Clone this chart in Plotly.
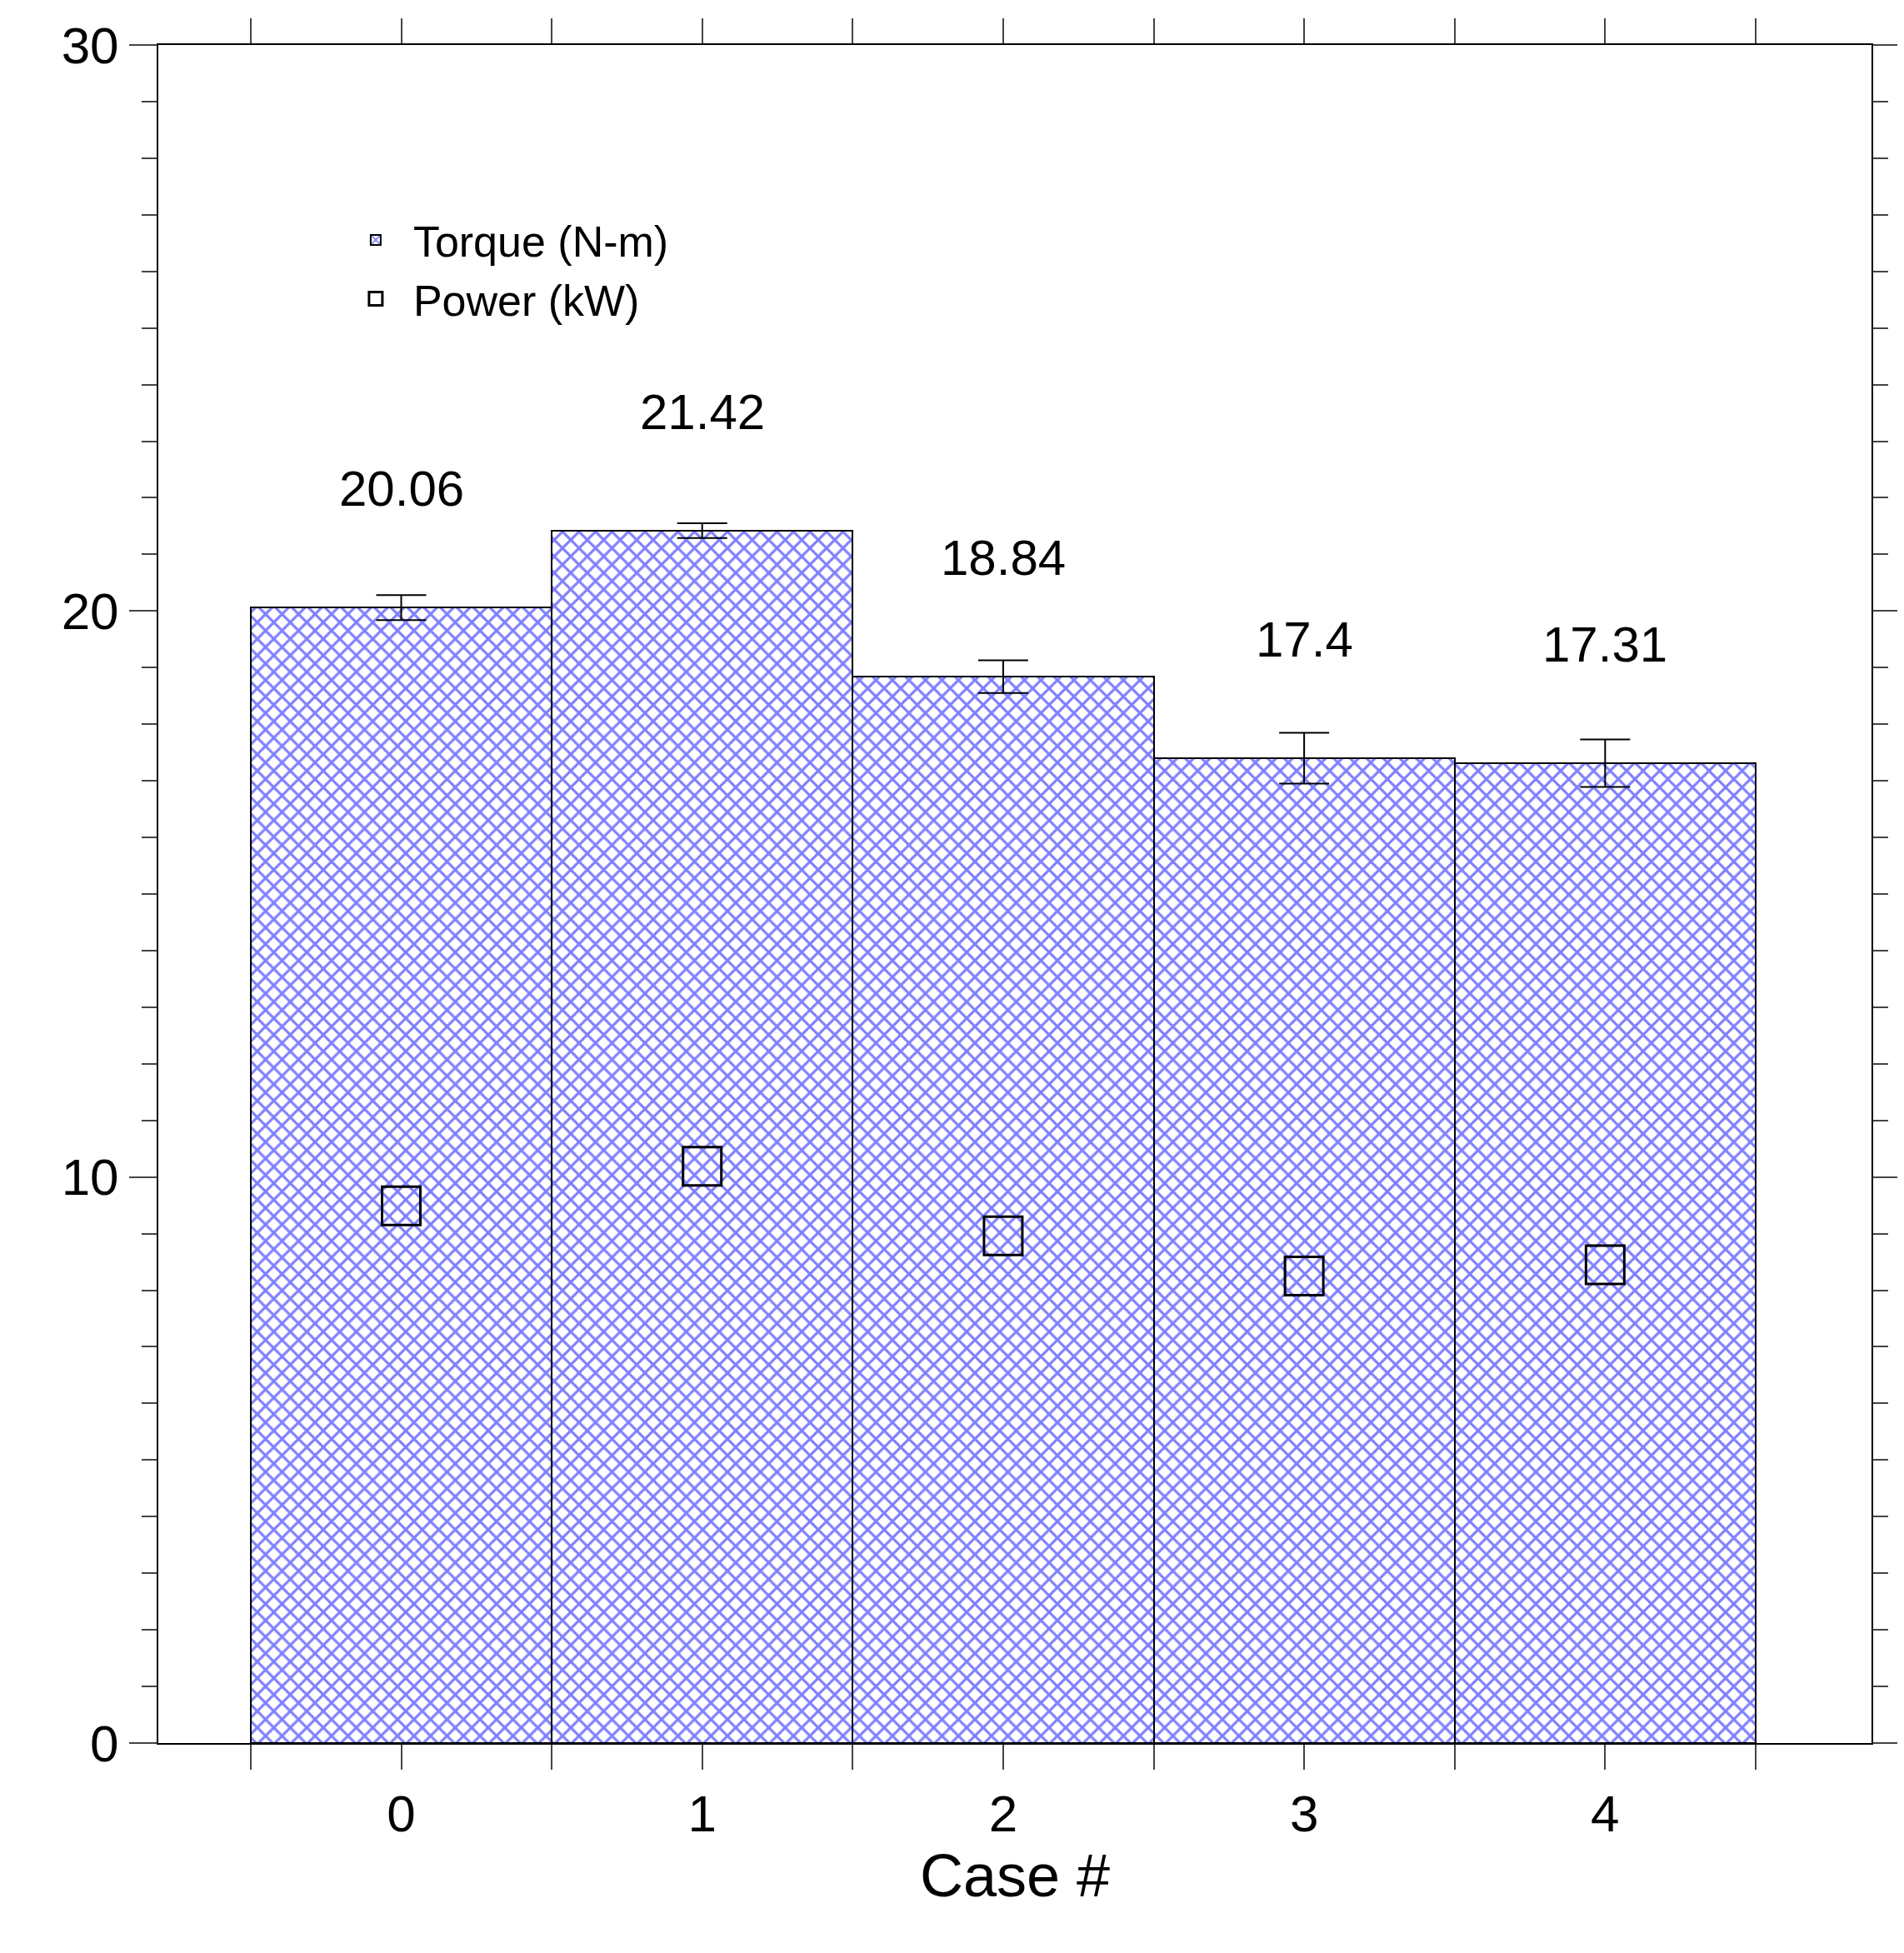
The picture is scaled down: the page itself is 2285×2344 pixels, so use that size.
import plotly.graph_objects as go

cases = [0, 1, 2, 3, 4]
torque = [20.06, 21.42, 18.84, 17.40, 17.31]
torque_err = [0.22, 0.13, 0.29, 0.45, 0.42]
power = [9.49, 10.19, 8.96, 8.25, 8.45]
labels = ["20.06", "21.42", "18.84", "17.4", "17.31"]
label_offset = [2.1, 2.1, 2.1, 2.1, 2.1]

F = "Liberation Sans, Arial, sans-serif"
fig = go.Figure()
fig.add_trace(go.Bar(
    x=cases, y=torque, width=1.0, name="Torque (N-m)",
    marker=dict(color="white", line=dict(color="black", width=2),
                pattern=dict(shape="x", fgcolor="#0000ff", bgcolor="white", size=14, solidity=0.4)),
    error_y=dict(type="data", array=torque_err, color="black", thickness=2, width=30),
))
fig.add_trace(go.Scatter(
    x=cases, y=power, mode="markers", name="Power (kW)",
    marker=dict(symbol="square-open", size=46, color="black", line=dict(width=3)),
))
for c, t, l, o in zip(cases, torque, labels, label_offset):
    fig.add_annotation(x=c, y=t + o, text=l, showarrow=False,
                       font=dict(family=F, size=60, color="black"))

fig.update_layout(
    width=2285, height=2344, plot_bgcolor="white", paper_bgcolor="white",
    margin=dict(l=182, r=37, t=45, b=260), bargap=0,
    font=dict(family=F, color="black"),
    legend=dict(x=0.105, y=0.905, xanchor="left", yanchor="top",
                font=dict(size=52, family=F), bgcolor="rgba(0,0,0,0)",
                itemwidth=80),
    showlegend=True,
)
fig.update_xaxes(range=[-0.807, 4.885], tickvals=cases, ticks="outside", ticklen=30, tickwidth=2,
                 showline=True, linecolor="black", linewidth=2, mirror="ticks", showgrid=False,
                 tickfont=dict(size=62), title=dict(text="Case #", font=dict(size=72), standoff=10),
                 minor=dict(dtick=0.5, tick0=0.5, ticks="outside", ticklen=30, tickwidth=2))
fig.update_yaxes(range=[0, 30], dtick=10, ticks="outside", ticklen=33, tickwidth=2,
                 showline=True, linecolor="black", linewidth=2, mirror="ticks", showgrid=False,
                 tickfont=dict(size=62), zeroline=False,
                 minor=dict(dtick=1, ticks="outside", ticklen=18, tickwidth=2))
fig.write_html("out.html")
